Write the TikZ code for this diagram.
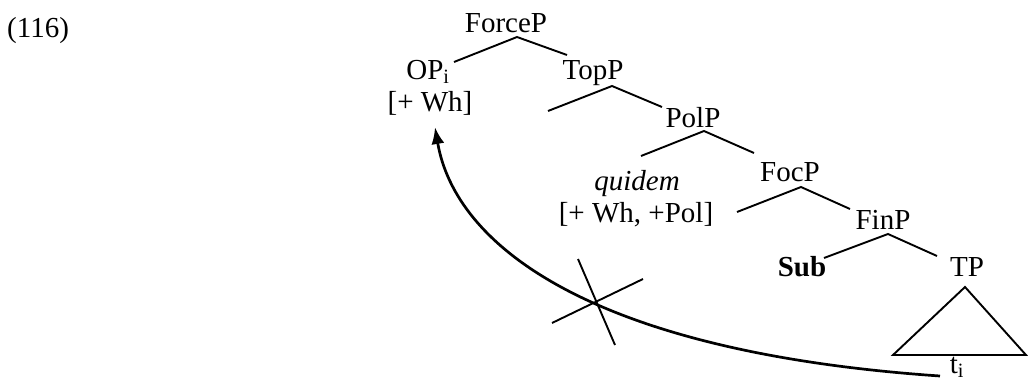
\documentclass[tikz,border=0pt]{standalone}
\usepackage{fontspec}
\setmainfont{Liberation Serif}
\usetikzlibrary{arrows.meta}
\begin{document}
\begin{tikzpicture}[x=1pt,y=-1pt,
  lbl/.style={inner sep=0pt,anchor=base,font=\fontsize{29}{33}\selectfont},
  branch/.style={line width=1.9pt},
  movecurve/.style={line width=2.7pt,-{Latex[length=17pt,width=13pt]}},
  crossline/.style={line width=1.9pt}]
\useasboundingbox (0,0) rectangle (1028,380);
% labels
\node[lbl,anchor=base west] (ex) at (7,37) {(116)};
\node[lbl] (forceP) at (506,32) {ForceP};
\node[lbl] (op) at (428,79) {OP\textsubscript{i}};
\node[lbl] (opwh) at (430,111) {[+ Wh]};
\node[lbl] (topP) at (593,79) {TopP};
\node[lbl] (polP) at (693,127) {PolP};
\node[lbl] (quidem) at (637,190) {\itshape quidem};
\node[lbl] (qwh) at (636,222) {[+ Wh, +Pol]};
\node[lbl] (focP) at (790,181) {FocP};
\node[lbl] (finP) at (883,229) {FinP};
\node[lbl] (sub) at (802,276) {\bfseries Sub};
\node[lbl] (tP) at (967,276) {TP};
\node[lbl] (ti) at (957,373) {t\textsubscript{i}};
% branch points
\coordinate (forceP-a) at (517,37);
\coordinate (forceP-l) at (454,62);
\coordinate (forceP-r) at (567,55);
\coordinate (topP-a) at (612,86);
\coordinate (topP-l) at (548,111);
\coordinate (topP-r) at (662,107);
\coordinate (polP-a) at (704,131);
\coordinate (polP-l) at (641,156);
\coordinate (polP-r) at (754,153);
\coordinate (focP-a) at (801,187);
\coordinate (focP-l) at (737,212);
\coordinate (focP-r) at (850,209);
\coordinate (finP-a) at (888,234);
\coordinate (finP-l) at (824,258);
\coordinate (finP-r) at (937,256);
\coordinate (tri-a) at (965,287);
\coordinate (tri-l) at (893,355);
\coordinate (tri-r) at (1026,355);
% tree
\draw[branch] (forceP-l) -- (forceP-a) -- (forceP-r);
\draw[branch] (topP-l) -- (topP-a) -- (topP-r);
\draw[branch] (polP-l) -- (polP-a) -- (polP-r);
\draw[branch] (focP-l) -- (focP-a) -- (focP-r);
\draw[branch] (finP-l) -- (finP-a) -- (finP-r);
\draw[branch,line join=miter] (tri-a) -- (tri-l) -- (tri-r) -- cycle;
% movement
\coordinate (mv-start) at (940,376);
\coordinate (mv-c1) at (590,352);
\coordinate (mv-c2) at (455,245);
\coordinate (mv-end) at (435,127);
\draw[movecurve] (mv-start) .. controls (mv-c1) and (mv-c2) .. (mv-end);
% blocking cross
\coordinate (x1a) at (578,259);
\coordinate (x1b) at (615,345);
\coordinate (x2a) at (552,323);
\coordinate (x2b) at (643,279);
\draw[crossline] (x1a) -- (x1b);
\draw[crossline] (x2a) -- (x2b);
\end{tikzpicture}
\end{document}
